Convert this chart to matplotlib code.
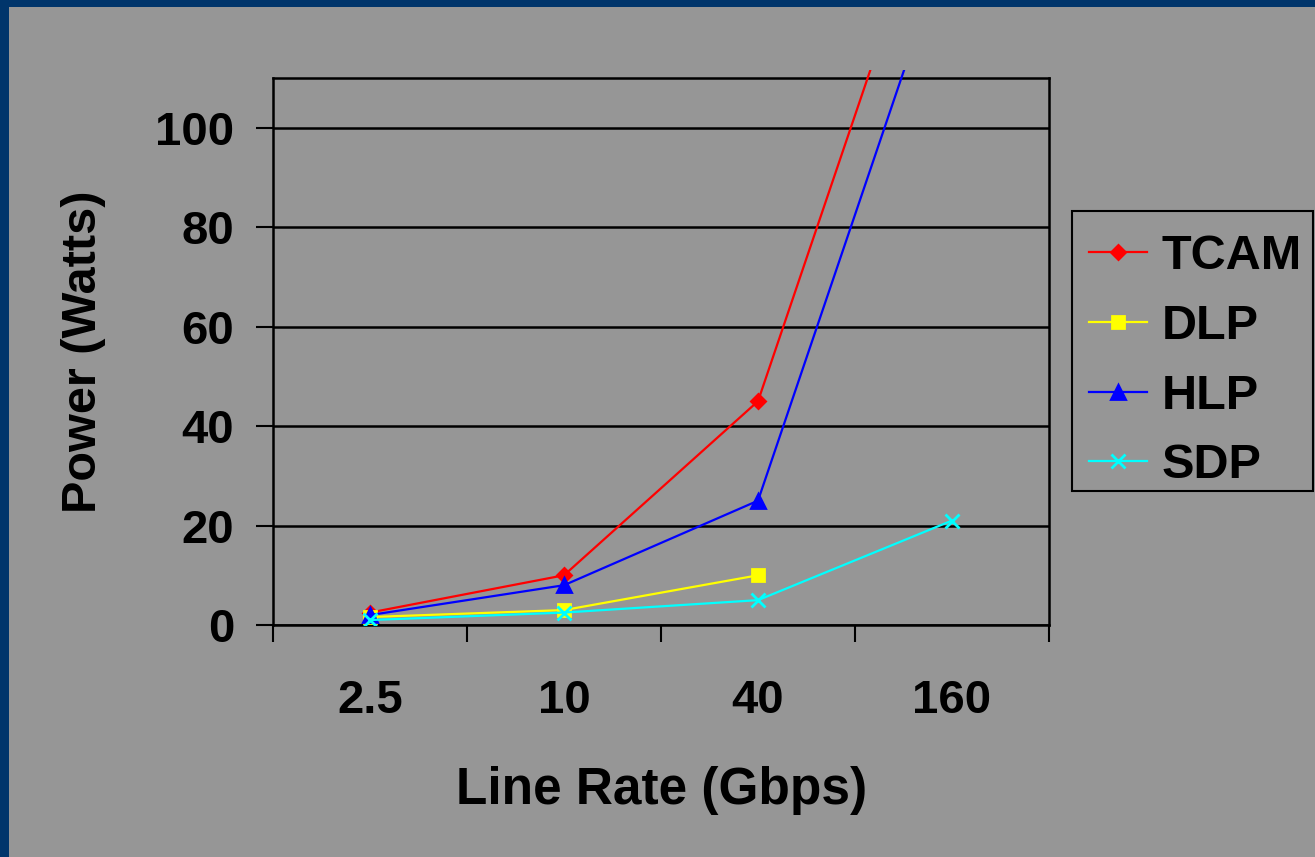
import matplotlib
matplotlib.use("Agg")
import matplotlib.pyplot as plt
from matplotlib.patches import Rectangle

# Line rate categories and power draw (Watts) for each lookup scheme
rates = ["2.5", "10", "40", "160"]
tcam = [2.5, 10, 45, 160]
dlp = [1.6, 3, 10]
hlp = [2, 8, 25, 140]
sdp = [1.0, 2.5, 5, 21]
y_ticks = [0, 20, 40, 60, 80, 100]

BG = "#969696"
EDGE = "#00356B"
FONT = "Liberation Sans"

plt.rcParams["font.family"] = [FONT, "DejaVu Sans"]
plt.rcParams["font.weight"] = "bold"

W, H = 1315, 857
fig = plt.figure(figsize=(W / 100, H / 100), dpi=100, facecolor=BG)

# dark frame along the top and left edges
fig.patches.append(Rectangle((0, 1 - 7 / H), 1, 7 / H, transform=fig.transFigure,
                             facecolor=EDGE, edgecolor="none", zorder=-1))
fig.patches.append(Rectangle((0, 0), 9 / W, 1, transform=fig.transFigure,
                             facecolor=EDGE, edgecolor="none", zorder=-1))

ax = fig.add_axes([273 / W, 1 - 625 / H, (1049 - 273) / W, (625 - 78) / H])
ax.set_facecolor(BG)

xs = list(range(len(rates)))
series = [
    ("TCAM", tcam, "red", "D", 7.0),
    ("DLP", dlp, "yellow", "s", 8.8),
    ("HLP", hlp, "blue", "^", 9.5),
    ("SDP", sdp, "cyan", "x", 10.0),
]

# let steep lines run a little past the top of the frame
clip = Rectangle((0, 0), 1, 1 + 8 / 547, transform=ax.transAxes)
for name, vals, col, mk, ms in series:
    ln, = ax.plot(xs[:len(vals)], vals, color=col, lw=1.6, marker=mk, ms=ms,
                  mec=col, mfc=col, mew=2, label=name, zorder=3)
    ln.set_clip_path(clip)

ax.set_xlim(-0.5, len(rates) - 0.5)
ax.set_ylim(0, 110)

ax.set_yticks(y_ticks)
ax.set_yticklabels([str(v) for v in y_ticks])
ax.yaxis.grid(True, color="black", lw=1.8)
ax.set_axisbelow(True)
ax.tick_params(axis="y", length=12, width=1.5, color="black", pad=16,
               labelsize=34)

ax.set_xticks(xs)
ax.set_xticklabels(rates)
ax.set_xticks([i - 0.5 for i in range(len(rates) + 1)], minor=True)
ax.tick_params(axis="x", which="major", length=0, pad=39, labelsize=34)
ax.tick_params(axis="x", which="minor", length=12, width=1.5, color="black")

for s in ax.spines.values():
    s.set_color("black")
    s.set_linewidth(1.8)

fig.text(84 / W, 1 - 352 / H, "Power (Watts)", rotation=90, ha="center",
         va="center", fontsize=35, fontweight="bold")
fig.text(662 / W, 1 - 804 / H, "Line Rate (Gbps)", ha="center",
         va="baseline", fontsize=37, fontweight="bold")

# legend entries, with the surrounding box drawn separately
leg = ax.legend(loc="upper left", bbox_to_anchor=(1072 / W, 1 - 217 / H),
                bbox_transform=fig.transFigure, borderaxespad=0,
                frameon=False, handlelength=1.2,
                handletextpad=0.3, labelspacing=0.51, borderpad=0.35,
                prop={"family": [FONT], "weight": "bold", "size": 35})
fig.patches.append(Rectangle((1072 / W, 1 - 491 / H), (1313 - 1072) / W,
                             (491 - 211) / H, transform=fig.transFigure,
                             facecolor="none", edgecolor="black", lw=1.5,
                             zorder=5))

fig.savefig("out.png", dpi=100, facecolor=BG)
